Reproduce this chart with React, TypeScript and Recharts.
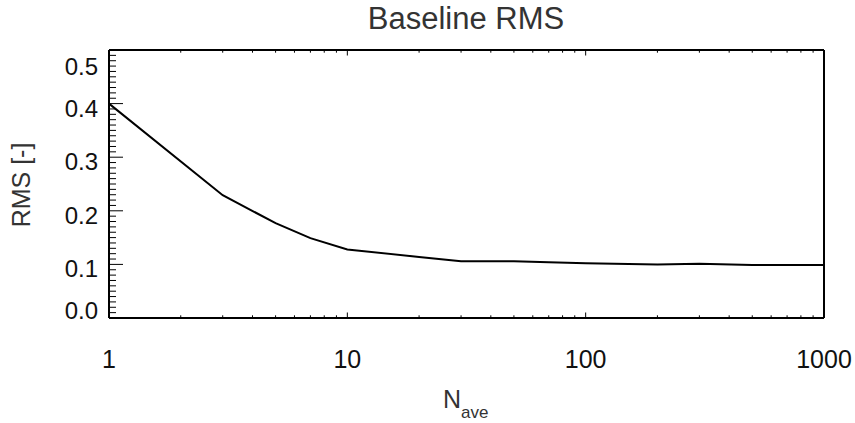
import React from "react";
import { Line, LineChart, XAxis, YAxis } from "recharts";

/* Baseline RMS against number of averages, IDL-style boxed log plot. */

const N_AVE = [1, 3, 5, 7, 10, 20, 30, 50, 70, 100, 200, 300, 500, 1000];
const RMS = [0.4, 0.229, 0.177, 0.149, 0.128, 0.114, 0.106, 0.106, 0.104, 0.102, 0.1, 0.101, 0.099, 0.099];

const X_LABELS = [1, 10, 100, 1000];
const Y_LABELS = [0, 0.1, 0.2, 0.3, 0.4, 0.5];

const data = N_AVE.map((n, i) => ({ n, rms: RMS[i] }));

// minor ticks: 2..9 in each decade, every 0.01 on y
const X_TICKS: number[] = [];
X_LABELS.forEach((d, i) => {
  X_TICKS.push(d);
  if (i < X_LABELS.length - 1) for (let k = 2; k <= 9; k++) X_TICKS.push(d * k);
});
const Y_TICKS: number[] = [];
for (let i = 0; i <= 50; i++) Y_TICKS.push(Math.round(i) / 100);

const W = 855;
const H = 423;
const FONT = '"Liberation Sans", Arial, Helvetica, sans-serif';
const INK = "#000";
const LABEL = "#111";
const TITLE = "#333";

const isMajorX = (v: number) => X_LABELS.includes(v);
const isMajorY = (v: number) => Y_LABELS.some((m) => Math.abs(m - v) < 1e-6);

function BottomTick(props: any) {
  const { x, y, payload } = props;
  const major = isMajorX(payload.value);
  return (
    <g>
      <line x1={x} x2={x} y1={y} y2={y - (major ? 5.5 : 2.7)} stroke={INK} strokeWidth={1} />
      {major && (
        <text x={x} y={y + 50} textAnchor="middle" fontSize={25} fontFamily={FONT} fill={LABEL}>
          {payload.value}
        </text>
      )}
    </g>
  );
}

function TopTick(props: any) {
  const { x, y, payload } = props;
  const major = isMajorX(payload.value);
  return <line x1={x} x2={x} y1={y} y2={y + (major ? 5.5 : 2.7)} stroke={INK} strokeWidth={1} />;
}

function LeftTick(props: any) {
  const { x, y, payload } = props;
  const v = payload.value;
  const major = isMajorY(v);
  // end labels sit inside the box like the original
  let dy = 13;
  if (Math.abs(v - 0.5) < 1e-6) dy = 24.5;
  if (Math.abs(v) < 1e-6) dy = 0.5;
  return (
    <g>
      <line x1={x} x2={x + (major ? 14 : 7)} y1={y} y2={y} stroke={INK} strokeWidth={1} />
      {major && (
        <text x={x - 11} y={y + dy} textAnchor="end" fontSize={24} fontFamily={FONT} fill={LABEL}>
          {v.toFixed(1)}
        </text>
      )}
    </g>
  );
}

function RightTick(props: any) {
  const { x, y, payload } = props;
  const major = isMajorY(payload.value);
  return <line x1={x} x2={x - (major ? 14 : 7)} y1={y} y2={y} stroke={INK} strokeWidth={1} />;
}

const AXIS_LINE = { stroke: INK, strokeWidth: 2 };

export default function App() {
  return (
    <div style={{ position: "absolute", left: 0, top: 0, width: W, height: H, background: "#fff" }}>
      <LineChart width={W} height={H} data={data} margin={{ top: 49, right: 30, bottom: 75, left: 49 }}>
        <XAxis
          dataKey="n"
          type="number"
          scale="log"
          domain={[1, 1000]}
          ticks={X_TICKS}
          interval={0}
          height={30}
          tickSize={0}
          tickMargin={0}
          tickLine={false}
          axisLine={AXIS_LINE}
          tick={<BottomTick />}
        />
        <XAxis
          xAxisId="top"
          orientation="top"
          dataKey="n"
          type="number"
          scale="log"
          domain={[1, 1000]}
          ticks={X_TICKS}
          interval={0}
          height={1}
          tickSize={0}
          tickMargin={0}
          tickLine={false}
          axisLine={AXIS_LINE}
          tick={<TopTick />}
        />
        <YAxis
          type="number"
          domain={[0, 0.5]}
          ticks={Y_TICKS}
          interval={0}
          width={60}
          tickSize={0}
          tickMargin={0}
          tickLine={false}
          axisLine={AXIS_LINE}
          tick={<LeftTick />}
        />
        <YAxis
          yAxisId="right"
          orientation="right"
          type="number"
          domain={[0, 0.5]}
          ticks={Y_TICKS}
          interval={0}
          width={1}
          tickSize={0}
          tickMargin={0}
          tickLine={false}
          axisLine={AXIS_LINE}
          tick={<RightTick />}
        />
        <Line
          dataKey="rms"
          type="linear"
          stroke={INK}
          strokeWidth={2}
          dot={false}
          isAnimationActive={false}
        />
      </LineChart>
      <svg
        width={W}
        height={H}
        style={{ position: "absolute", left: 0, top: 0, pointerEvents: "none" }}
        fontFamily={FONT}
      >
        <text x={466} y={29} textAnchor="middle" fontSize={31} fill={TITLE}>
          Baseline RMS
        </text>
        <text
          x={30}
          y={185}
          textAnchor="middle"
          fontSize={25}
          fill={TITLE}
          transform="rotate(-90 30 185)"
        >
          RMS [-]
        </text>
        <text x={443} y={408} fontSize={25} fill={TITLE}>
          N
          <tspan fontSize={17} dy={10}>
            ave
          </tspan>
        </text>
      </svg>
    </div>
  );
}
